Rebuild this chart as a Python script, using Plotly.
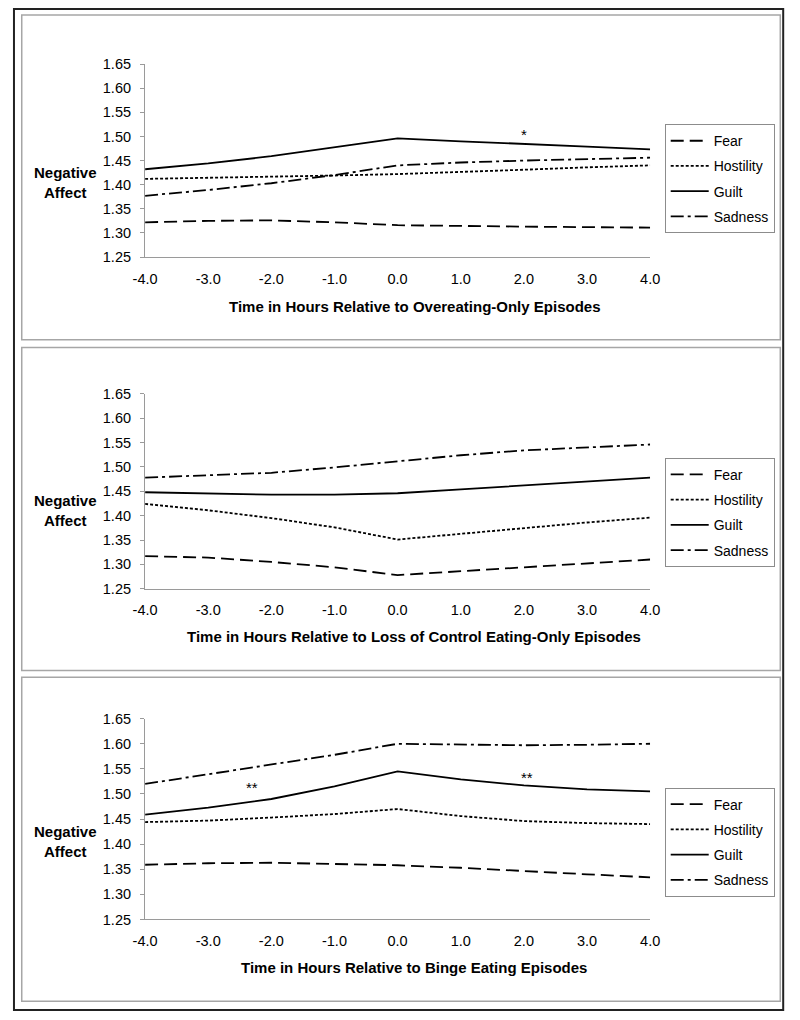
import plotly.graph_objects as go

# ---------------- data ----------------
hours = [-4, -3, -2, -1, 0, 1, 2, 3, 4]
x_tick_labels = ["-4.0", "-3.0", "-2.0", "-1.0", "0.0", "1.0", "2.0", "3.0", "4.0"]
y_tick_values = [1.25, 1.30, 1.35, 1.40, 1.45, 1.50, 1.55, 1.60, 1.65]
series_names = ["Fear", "Hostility", "Guilt", "Sadness"]

panel_titles = [
    "Time in Hours Relative to Overeating-Only Episodes",
    "Time in Hours Relative to Loss of Control Eating-Only Episodes",
    "Time in Hours Relative to Binge Eating Episodes",
]

# Overeating-only episodes
oe_fear = [1.322, 1.325, 1.326, 1.322, 1.316, 1.314, 1.313, 1.312, 1.311]
oe_hostility = [1.412, 1.414, 1.416, 1.419, 1.422, 1.426, 1.431, 1.436, 1.440]
oe_guilt = [1.432, 1.444, 1.459, 1.477, 1.496, 1.490, 1.485, 1.479, 1.473]
oe_sadness = [1.377, 1.389, 1.403, 1.420, 1.440, 1.446, 1.450, 1.453, 1.456]

# Loss of control eating-only episodes
loc_fear = [1.317, 1.314, 1.305, 1.294, 1.278, 1.286, 1.294, 1.302, 1.310]
loc_hostility = [1.424, 1.411, 1.395, 1.376, 1.351, 1.363, 1.374, 1.386, 1.396]
loc_guilt = [1.448, 1.445, 1.443, 1.443, 1.446, 1.454, 1.462, 1.470, 1.478]
loc_sadness = [1.478, 1.483, 1.488, 1.499, 1.511, 1.524, 1.534, 1.540, 1.546]

# Binge eating episodes
be_fear = [1.359, 1.362, 1.363, 1.361, 1.358, 1.353, 1.346, 1.340, 1.334]
be_hostility = [1.444, 1.447, 1.453, 1.460, 1.470, 1.456, 1.446, 1.442, 1.440]
be_guilt = [1.459, 1.473, 1.490, 1.515, 1.545, 1.529, 1.517, 1.509, 1.505]
be_sadness = [1.520, 1.539, 1.558, 1.578, 1.600, 1.598, 1.597, 1.598, 1.600]

# significance markers: (hour, level, text)
oe_marks = [(2.0, 1.505, "*")]
loc_marks = []
be_marks = [(-2.3, 1.513, "**"), (2.05, 1.533, "**")]

panels = [
    [oe_fear, oe_hostility, oe_guilt, oe_sadness],
    [loc_fear, loc_hostility, loc_guilt, loc_sadness],
    [be_fear, be_hostility, be_guilt, be_sadness],
]
panel_marks = [oe_marks, loc_marks, be_marks]

# ---------------- styling / layout ----------------
W, H = 800, 1020
FONT = "Arial, 'Liberation Sans', sans-serif"
dashes = {"Fear": "13px,6px", "Hostility": "3px,2px", "Guilt": "solid", "Sadness": "13px,4px,3px,4px"}

# pixel geometry of each panel
plot_left, plot_right = 136, 656
plot_tops = [57, 392, 722]
plot_bottoms = [253, 590, 926]
box_tops = [7, 345, 680]
box_bottoms = [337, 673, 1009]
legend_tops = [118, 457, 792]
ytitle_y = [177, 511, 847]
xtitle_y = [303, 639, 975]


def px(x):
    return x / W


def py(y):
    return 1 - y / H


fig = go.Figure()
layout = dict(
    width=W, height=H,
    margin=dict(l=0, r=0, t=0, b=0),
    paper_bgcolor="white", plot_bgcolor="white",
    font=dict(family=FONT, size=14.5, color="black"),
    showlegend=True,
)
shapes = []
annotations = []

for i, series in enumerate(panels):
    n = i + 1
    xa = "x" if n == 1 else f"x{n}"
    ya = "y" if n == 1 else f"y{n}"
    leg = "legend" if n == 1 else f"legend{n}"
    for name, vals in zip(series_names, series):
        fig.add_trace(go.Scatter(
            x=hours, y=vals, name=name, mode="lines",
            line=dict(color="black", width=1.8, dash=dashes[name]),
            xaxis=xa, yaxis=ya, legend=leg, legendgroup=f"{name}{n}",
            hoverinfo="skip",
        ))
    layout[f"xaxis{'' if n == 1 else n}"] = dict(
        domain=[px(plot_left), px(plot_right)],
        range=[-4, 4], tickvals=hours, ticktext=x_tick_labels,
        showline=True, linecolor="#9a9a9a", linewidth=1.3,
        showgrid=False, zeroline=False, ticks="", ticklabelstandoff=8,
        tickfont=dict(size=14.5, color="black"), anchor=ya, fixedrange=True,
    )
    layout[f"yaxis{'' if n == 1 else n}"] = dict(
        domain=[py(plot_bottoms[i]), py(plot_tops[i])],
        range=[1.25, 1.65], tickvals=y_tick_values,
        ticktext=[f"{v:.2f}" for v in y_tick_values],
        showline=True, linecolor="#9a9a9a", linewidth=1.3,
        ticks="outside", ticklen=4, tickcolor="#9a9a9a", tickwidth=1,
        showgrid=False, zeroline=False, ticklabelstandoff=6,
        tickfont=dict(size=14.5, color="black"), anchor=xa, fixedrange=True,
    )
    layout[leg] = dict(
        x=px(671), y=py(legend_tops[i]), xanchor="left", yanchor="top",
        bordercolor="#8c8c8c", borderwidth=1, bgcolor="white",
        font=dict(size=14, color="black", family=FONT),
        tracegroupgap=4, traceorder="grouped", itemwidth=38,
    )
    # panel border
    shapes.append(dict(type="rect", xref="paper", yref="paper",
                       x0=px(9), x1=px(790), y0=py(box_bottoms[i]), y1=py(box_tops[i]),
                       line=dict(color="#a6a6a6", width=1.5), layer="below"))
    # axis titles
    annotations.append(dict(text="<b>" + panel_titles[i] + "</b>",
                            xref="paper", yref="paper", x=px(413), y=py(xtitle_y[i]),
                            xanchor="center", yanchor="middle", showarrow=False,
                            font=dict(size=15, color="black", family=FONT)))
    annotations.append(dict(text="<b>Negative<br>Affect</b>",
                            xref="paper", yref="paper", x=px(54), y=py(ytitle_y[i]),
                            xanchor="center", yanchor="middle", showarrow=False,
                            font=dict(size=15, color="black", family=FONT)))
    for (hx, lv, txt) in panel_marks[i]:
        annotations.append(dict(text=txt, xref=xa, yref=ya, x=hx, y=lv,
                                xanchor="center", yanchor="middle", showarrow=False,
                                font=dict(size=15, color="black", family=FONT)))

# outer frame
shapes.append(dict(type="rect", xref="paper", yref="paper",
                   x0=px(1), x1=px(793), y0=py(1018), y1=py(1),
                   line=dict(color="#222222", width=2), layer="below"))

layout["shapes"] = shapes
layout["annotations"] = annotations
fig.update_layout(**layout)
fig.write_html("out.html", config={"displayModeBar": False},
               post_script="document.body.style.margin='0';document.body.style.overflow='hidden';")
